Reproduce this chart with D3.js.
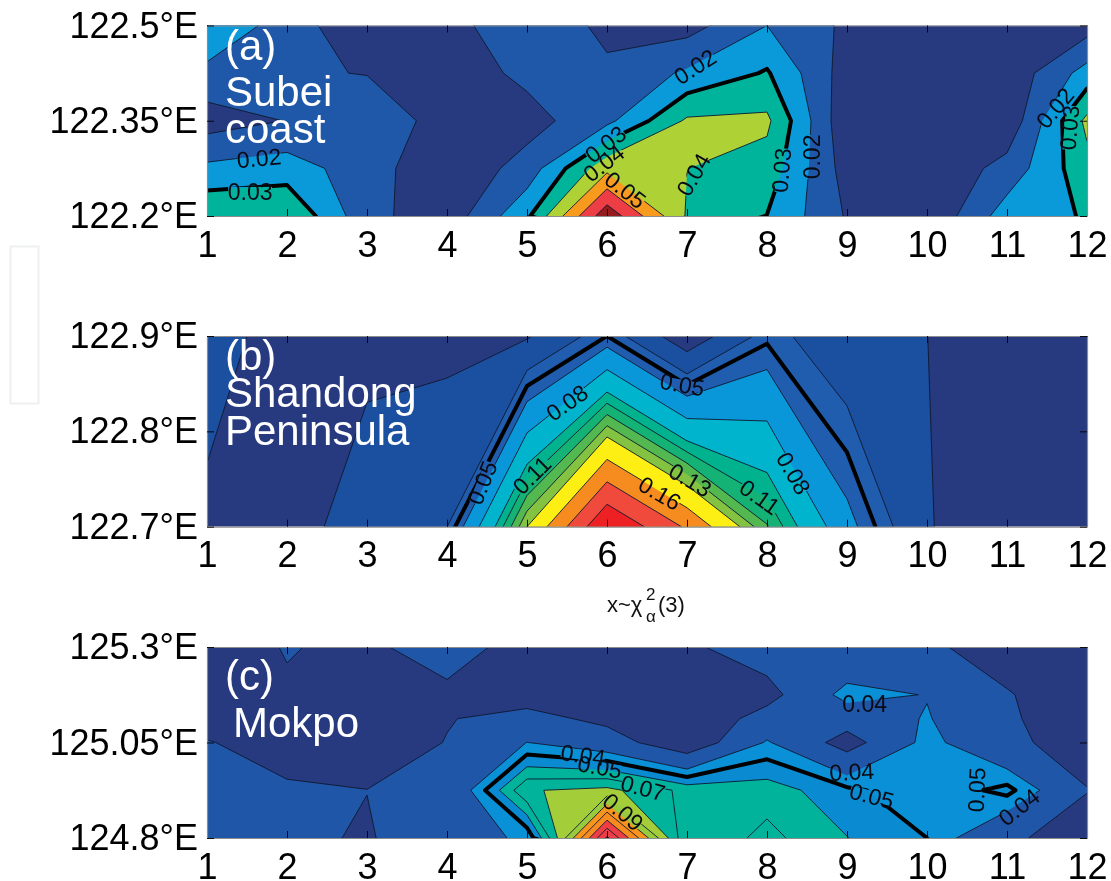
<!DOCTYPE html>
<html><head><meta charset="utf-8">
<script src="https://cdn.jsdelivr.net/npm/d3@7"></script>
<style>
html,body{margin:0;padding:0;background:#fff}
svg{display:block;filter:blur(.45px)}
text{font-family:"Liberation Sans",Arial,sans-serif}
</style></head><body>
<div id="c"></div>
<script>
// ---- x axis (shared) ----
const months = [1,2,3,4,5,6,7,8,9,10,11,12];

// ---- panel (a) Subei coast: rows run top to bottom ----
const latsA = [122.5,122.425,122.35,122.275,122.2];
const gridA = [
  [.029,.015,.0022,.0055,.019,.0071,.006,.02,.0081,.003,.003,.0055],
  [.0172,.011,.0097,.004,.0125,.0122,.0215,.031,.0051,.002,.0027,.024],
  [.0053,.0103,.0158,.0064,.006,.0173,.0415,.042,.002,.001,.0023,.0425],
  [.0222,.0249,.0145,.002,.014,.0472,.0401,.0359,.0055,.0011,.0137,.0367],
  [.039,.0395,.0131,.0038,.028,.077,.039,.0298,.009,.0011,.025,.0308]
];
const levelsA = [.01,.02,.03,.04,.05,.06,.07];
const colorsA = ["#1f58a8","#0a9ada","#00b49c","#aed136","#f79a1e","#ee3e45","#961b1e"];
const boldA = .03;
const labelsA = [
  ["0.02",1.65,122.291,-5],["0.03",1.54,122.238,0],["0.02",7.1,122.435,-33],
  ["0.03",5.98,122.313,-38],["0.04",5.96,122.283,-38],["0.05",6.23,122.241,38],
  ["0.04",7.08,122.265,-60],["0.03",8.18,122.272,-85],["0.02",8.56,122.293,-90],
  ["0.02",11.6,122.37,-50],["0.03",11.78,122.339,-85]
];

// ---- panel (b) Shandong Peninsula ----
const latsB = [122.9,122.7];
const gridB = [
  [.028,.012,.012,.0144,.018,.05,.006,.047,.025,.0201,.01,.008],
  [.016,.007,.035,.0398,.14,.22,.177,.121,.066,.021,.01,.009]
];
const levelsB = [.02,.04,.05,.06,.08,.10,.11,.12,.13,.14,.16,.18,.20];
const colorsB = ["#1b4fa0","#205dae","#205dae","#0a97da","#00b4ce","#00b28d","#14b274","#52b84f","#83c341","#fdee14","#f68c1f","#ef4a3c","#ed2024"];
const boldB = .05;
const labelsB = [
  ["0.05",4.44,122.746,-68],["0.11",5.06,122.754,-45],["0.08",5.5,122.83,-35],
  ["0.05",6.94,122.849,10],["0.13",7.04,122.749,30],["0.16",6.66,122.735,30],
  ["0.11",7.91,122.731,35],["0.08",8.33,122.756,60]
];

// ---- panel (c) Mokpo ----
const latsC = [125.3,125.175,125.1125,125.05,124.925,124.8];
const gridC = [
  [.0155,.0205,.018,.0251,.0153,.012,.017,.03,.022,.024,.0092,.008],
  [.012,.019,.012,.0176,.0118,.002,.005,.0135,.0457,.0393,.0216,.0056],
  [.0162,.0175,.011,.0191,.026,.0155,.0055,.0275,.029,.0412,.0224,.0095],
  [.0205,.016,.01,.0206,.0402,.029,.006,.0416,.012,.045,.0233,.0133],
  [.028,.0212,.0202,.0235,.0792,.083,.067,.0655,.0526,.042,.0535,.0205],
  [.03,.024,.0182,.034,.042,.142,.061,.073,.0603,.05,.0228,.0124]
];
const levelsC = [.02,.04,.05,.06,.07,.08,.09,.10,.11,.12,.13,.14];
const colorsC = ["#1f56a8","#0a90d6","#0a8ad0","#00b39a","#00b39a","#a3cd39","#98ca3e","#f7941e","#f68b1f","#ee3e45","#ee3e45","#a01c20"];
const boldC = .05;
const labelsC = [
  ["0.04",5.7,125.017,8],["0.05",5.91,124.986,10],["0.07",6.45,124.931,15],
  ["0.09",6.2,124.868,40],["0.04",9.22,125.151,0],["0.04",9.06,124.973,-3],
  ["0.05",9.31,124.91,15],["0.05",10.62,124.926,-88],["0.04",11.15,124.881,-38]
];

// ---- panel text ----
const textA = [["(a)",225,60],["Subei",225,106],["coast",225,143]];
const textB = [["(b)",225,370],["Shandong",225,407],["Peninsula",225,445]];
const textC = [["(c)",225,690],["Mokpo",233,737]];

const panels = [
  {id:"a",lats:latsA,grid:gridA,levels:levelsA,colors:colorsA,bold:boldA,labels:labelsA,text:textA,top:25.5,bottom:216,ticks:[122.2,122.35,122.5]},
  {id:"b",lats:latsB,grid:gridB,levels:levelsB,colors:colorsB,bold:boldB,labels:labelsB,text:textB,top:336,bottom:526.7,ticks:[122.7,122.8,122.9]},
  {id:"c",lats:latsC,grid:gridC,levels:levelsC,colors:colorsC,bold:boldC,labels:labelsC,text:textC,top:647,bottom:838,ticks:[124.8,125.05,125.3]}
];

const W=1111,H=881,left=207,right=1087;
const svg=d3.select("#c").append("svg").attr("width",W).attr("height",H).attr("viewBox",[0,0,W,H]);
svg.append("rect").attr("x",10.5).attr("y",246.5).attr("width",28).attr("height",157)
  .attr("fill","none").attr("stroke","#eef0ef").attr("stroke-width",2);

const x=d3.scaleLinear().domain([1,12]).range([left,right]);

panels.forEach(p=>{
  const y=d3.scaleLinear().domain([d3.min(p.lats),d3.max(p.lats)]).range([p.bottom,p.top]);
  const nx=months.length, ny=p.lats.length;
  const values=p.grid.flat();
  const rowLat=d3.scaleLinear().domain(d3.range(ny)).range(p.lats);
  const proj=d3.geoTransform({point(gx,gy){ this.stream.point(x(gx+0.5),y(rowLat(gy-0.5))); }});
  const path=d3.geoPath(proj);
  const contours=d3.contours().size([nx,ny]);
  const g=svg.append("g");
  const clipId="clip-"+p.id, maskId="mask-"+p.id;
  const defs=g.append("defs");
  defs.append("clipPath").attr("id",clipId).append("rect")
    .attr("x",left).attr("y",p.top).attr("width",right-left).attr("height",p.bottom-p.top);

  // mask that opens a gap in the lines under each inline label
  const mask=defs.append("mask").attr("id",maskId).attr("maskUnits","userSpaceOnUse")
    .attr("x",0).attr("y",0).attr("width",W).attr("height",H);
  mask.append("rect").attr("width",W).attr("height",H).attr("fill","#fff");
  mask.selectAll("rect.gap").data(p.labels).join("rect").attr("class","gap")
    .attr("x",-22).attr("y",-5).attr("width",44).attr("height",10).attr("fill","#000")
    .attr("transform",d=>`translate(${x(d[1])},${y(d[2])}) rotate(${d[3]})`);

  const body=g.append("g").attr("clip-path",`url(#${clipId})`);
  body.append("rect").attr("x",left).attr("y",p.top).attr("width",right-left).attr("height",p.bottom-p.top).attr("fill","#27397f");
  const shapes=p.levels.map(l=>contours.contour(values,l));
  body.selectAll("path.fill").data(shapes).join("path").attr("class","fill")
    .attr("d",path).attr("fill",(d,i)=>p.colors[i]).attr("fill-rule","evenodd").attr("stroke","none");
  const lines=body.append("g").attr("mask",`url(#${maskId})`);
  lines.selectAll("path.line").data(shapes).join("path").attr("class","line")
    .attr("d",path).attr("fill","none").attr("stroke-linejoin","round")
    .attr("stroke",d=>d.value===p.bold?"#000":"#10182f")
    .attr("stroke-width",d=>d.value===p.bold?4:0.9);

  // inline contour labels
  g.selectAll("text.lab").data(p.labels).join("text").attr("class","lab")
    .attr("text-anchor","middle").attr("dominant-baseline","central")
    .attr("font-size",23).attr("fill","#0a0a14")
    .attr("transform",d=>`translate(${x(d[1])},${y(d[2])}) rotate(${d[3]})`)
    .text(d=>d[0]);

  // axes: inward ticks on all four sides
  const style=s=>{
    s.select(".domain").attr("stroke","#8c8c8c").attr("stroke-width",1.2);
    s.selectAll(".tick line").attr("stroke","#000").attr("stroke-width",0.9);
    s.selectAll("text").attr("font-family",'"Liberation Sans",Arial,sans-serif').attr("font-size",36).attr("fill","#000");
  };
  g.append("g").attr("transform",`translate(0,${p.bottom})`)
    .call(d3.axisBottom(x).tickValues(months).tickFormat(d3.format("d")).tickSizeInner(-7).tickSizeOuter(0).tickPadding(15)).call(style);
  g.append("g").attr("transform",`translate(0,${p.top})`)
    .call(d3.axisTop(x).tickValues(months).tickFormat("").tickSizeInner(-7).tickSizeOuter(0)).call(style);
  g.append("g").attr("transform",`translate(${left},0)`)
    .call(d3.axisLeft(y).tickValues(p.ticks).tickFormat(v=>`${v}°E`).tickSizeInner(-7).tickSizeOuter(0).tickPadding(9)).call(style);
  g.append("g").attr("transform",`translate(${right},0)`)
    .call(d3.axisRight(y).tickValues(p.ticks).tickFormat("").tickSizeInner(-7).tickSizeOuter(0)).call(style);

  // white region captions
  g.selectAll("text.cap").data(p.text).join("text").attr("class","cap")
    .attr("x",d=>d[1]).attr("y",d=>d[2]).attr("font-size",42).attr("fill","#fff").text(d=>d[0]);
});

// x-axis note between panels (b) and (c)
const note=svg.append("g").attr("font-size",22).attr("fill","#111");
note.append("text").attr("x",607).attr("y",612).text("x~χ");
note.append("text").attr("x",646).attr("y",600).attr("font-size",17).text("2");
note.append("text").attr("x",646).attr("y",622).attr("font-size",17).text("α");
note.append("text").attr("x",658).attr("y",612).text("(3)");
</script>
</body></html>
